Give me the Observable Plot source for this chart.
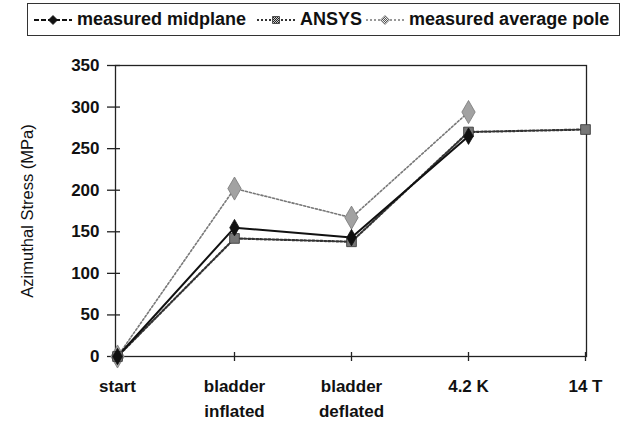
<!DOCTYPE html>
<html><head><meta charset="utf-8">
<script src="https://cdn.jsdelivr.net/npm/d3@7"></script>
<script src="https://cdn.jsdelivr.net/npm/@observablehq/plot@0.6"></script>
<style>
body{margin:0;background:#fff;font-family:"Liberation Sans",Arial,sans-serif;}
#legend{position:relative;width:629px;height:44px;}
#legend .box{position:absolute;left:27px;top:3px;width:593px;height:33px;border:1.5px solid #333;display:flex;align-items:center;padding-left:5px;box-sizing:border-box;font-weight:bold;font-size:18px;color:#111;white-space:nowrap;}
#legend .item{display:flex;align-items:center;}
#legend svg{margin-right:4px;}
</style>
</head><body>
<div id="legend"></div>
<div id="chart"></div>
<script>
const categories = ["start", "bladder\ninflated", "bladder\ndeflated", "4.2 K", "14 T"];
const midplane = [0, 155, 143, 265, null];
const ansys    = [0, 142, 138, 270, 273];
const pole     = [0, 202, 167, 294, null];
const seriesNames = ["measured midplane", "ANSYS", "measured average pole"];
const yTicks = [0, 50, 100, 150, 200, 250, 300, 350];

const styles = {
  "measured midplane": {stroke: "#111", width: 2, dash: null, legendDash: "5,2", symbol: "diamond", fill: "#111", r: 5},
  "ANSYS": {stroke: "#333", width: 2.2, dash: "2,2", legendDash: "2,2", symbol: "square", fill: "url(#checkDark)", r: 5.5},
  "measured average pole": {stroke: "#777", width: 1.6, dash: "2,2", legendDash: "2,2", symbol: "diamond", fill: "url(#checkLight)", r: 7}
};

const rows = [];
[midplane, ansys, pole].forEach((arr, si) => {
  arr.forEach((v, i) => { if (v != null) rows.push({series: seriesNames[si], cat: categories[i], value: v}); });
});

// legend
const legend = document.getElementById("legend");
const box = document.createElement("div"); box.className = "box"; legend.appendChild(box);
const defs = `<defs>
<pattern id="checkDark" width="2" height="2" patternUnits="userSpaceOnUse"><rect width="2" height="2" fill="#ccc"/><rect width="1" height="1" fill="#222"/><rect x="1" y="1" width="1" height="1" fill="#222"/></pattern>
<pattern id="checkLight" width="2" height="2" patternUnits="userSpaceOnUse"><rect width="2" height="2" fill="#eee"/><rect width="1" height="1" fill="#555"/><rect x="1" y="1" width="1" height="1" fill="#555"/></pattern>
</defs>`;
const gaps = [0, 10, 3];
seriesNames.forEach((name, i) => {
  const s = styles[name];
  const item = document.createElement("span"); item.className = "item";
  item.style.marginLeft = gaps[i] + "px";
  const r = 4.5;
  const sym = s.symbol === "diamond"
    ? `<path d="M20,${14 - r} L${20 + r},14 L20,${14 + r} L${20 - r},14Z" fill="${s.fill}" stroke="${s.stroke}" stroke-width="0.8"/>`
    : `<path d="M${20 - r + 1},${14 - r + 1}h${2 * r - 2}v${2 * r - 2}h${-(2 * r - 2)}Z" fill="${s.fill}" stroke="${s.stroke}" stroke-width="0.8"/>`;
  item.innerHTML = `<svg width="40" height="28">${i === 0 ? defs : ""}<line x1="1" x2="39" y1="14" y2="14" stroke="${s.stroke}" stroke-width="${Math.min(s.width, 2)}" stroke-dasharray="${s.legendDash}"/>${sym}</svg><span>${name}</span>`;
  box.appendChild(item);
});

const order = ["measured average pole", "ANSYS", "measured midplane"];
const marks = [
  Plot.frame({stroke: "#222", strokeWidth: 1.3}),
  Plot.axisY({ticks: yTicks, tickSize: 13, dx: 5, text: null, stroke: "#222", strokeWidth: 1.3, label: null}),
  Plot.axisY({ticks: yTicks, tickSize: 0, tickPadding: 16, label: null}),
  Plot.axisX({tickSize: 9, dy: -4, text: null, stroke: "#222", strokeWidth: 1.3, label: null}),
  Plot.axisX({tickSize: 0, tickPadding: 18, lineHeight: 1.47, label: null}),
  Plot.text(["Azimuthal Stress (MPa)"], {frameAnchor: "left", textAnchor: "middle", rotate: -90, dx: -88, text: d => d, fontSize: 16.5, fontWeight: "normal", fill: "#111"})
];
order.forEach(name => {
  const s = styles[name];
  const d = rows.filter(r => r.series === name);
  marks.push(Plot.line(d, {x: "cat", y: "value", stroke: s.stroke, strokeWidth: s.width, strokeDasharray: s.dash}));
});
order.forEach(name => {
  const s = styles[name];
  const d = rows.filter(r => r.series === name);
  marks.push(Plot.dot(d, {x: "cat", y: "value", symbol: s.symbol, r: s.r, fill: s.fill, stroke: s.stroke, strokeWidth: 0.8}));
});

const chart = Plot.plot({
  width: 629, height: 378,
  marginTop: 21, marginBottom: 66, marginLeft: 115, marginRight: 43,
  style: {fontSize: "17px", fontFamily: "'Liberation Sans', Arial, sans-serif", fontWeight: "bold", color: "#111", background: "#fff"},
  x: {type: "point", domain: categories, padding: 0, label: null},
  y: {domain: [0, 350], label: null},
  marks
});
document.getElementById("chart").appendChild(chart);
</script>
</body></html>
